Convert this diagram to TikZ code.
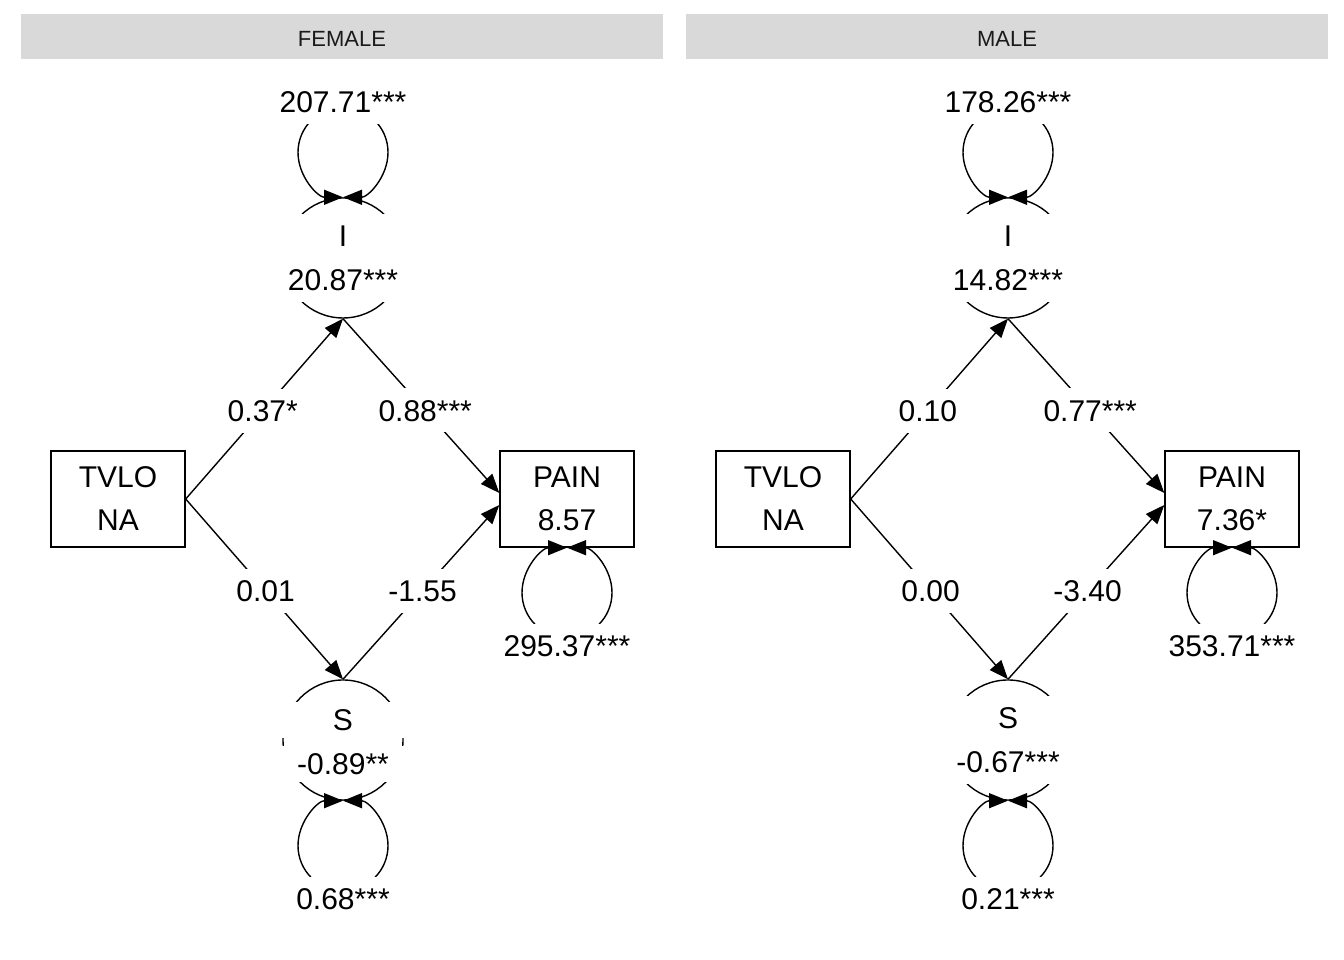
\documentclass[tikz,border=0pt]{standalone}
\usepackage{fontspec}
\setmainfont{Liberation Sans}
\usetikzlibrary{arrows.meta}
\definecolor{stripgrey}{HTML}{D9D9D9}
\definecolor{striptext}{HTML}{1A1A1A}
\tikzset{
  big/.style={font=\fontsize{30}{44}\selectfont},
  strip/.style={fill=stripgrey, text=striptext, minimum width=642pt, minimum height=45pt, inner sep=0pt, text height=20pt, text depth=0pt, font=\fontsize{22}{26}\selectfont},
  obsbox/.style={draw, line width=1.4pt, minimum width=134pt, minimum height=96pt, align=center, inner sep=0pt, font=\fontsize{30}{43}\selectfont},
  latent/.style={draw, circle, line width=1.4pt, minimum size=120pt, inner sep=0pt},
  latlabel/.style={fill=white, minimum width=130pt, minimum height=88pt, align=center, inner sep=0pt, big},
  elabel/.style={fill=white, inner xsep=3pt, inner ysep=11pt, text height=22pt, text depth=0pt, big},
  regarrow/.style={line width=1.4pt, -{Triangle[length=19pt,width=15pt]}}
}
\begin{document}
\begin{tikzpicture}[x=1pt, y=1pt]
        \useasboundingbox (0,0) rectangle (1344,960);
        % naglowki paneli
        \node[strip] (fHead) at (342,923.5) {FEMALE};
        \node[strip] (mHead) at (1007,923.5) {MALE};
        % ---- FEMALE ----
        \node[obsbox] (fTV) at (118,461) {TVLO\\NA};
        \node[obsbox] (fPain) at (567,461) {PAIN\\8.57};
        \node[latent] (fI) at (343,702) {};
        \node[latent] (fS) at (343,220) {};
        % sciezki
        \draw[regarrow] (fTV.east) -- node[elabel, pos=0.49] {0.37*} (fI.south);
        \draw[regarrow] (fI.south) -- node[elabel, pos=0.526] {0.88***} ([yshift=6pt]fPain.west);
        \draw[regarrow] (fTV.east) -- node[elabel, pos=0.508] {0.01} (fS.north);
        \draw[regarrow] (fS.north) -- node[elabel, pos=0.509] {-1.55} ([yshift=-6pt]fPain.west);
        % wariancje
        \draw[regarrow] ([yshift=90pt]fI.north) arc[start angle=90, end angle=270, radius=45pt];
        \draw[regarrow] ([yshift=90pt]fI.north) arc[start angle=90, end angle=-90, radius=45pt];
        \node[elabel] (fIvar) at (343,858) {207.71***};
        \draw[regarrow] ([yshift=-90pt]fS.south) arc[start angle=270, end angle=90, radius=45pt];
        \draw[regarrow] ([yshift=-90pt]fS.south) arc[start angle=-90, end angle=90, radius=45pt];
        \node[elabel] (fSvar) at (343,61) {0.68***};
        \draw[regarrow] ([yshift=-90pt]fPain.south) arc[start angle=270, end angle=90, radius=45pt];
        \draw[regarrow] ([yshift=-90pt]fPain.south) arc[start angle=-90, end angle=90, radius=45pt];
        \node[elabel] (fPainvar) at (567,314) {295.37***};
        % etykiety zmiennych latentnych
        \node[latlabel] (fIlab) at (fI) {I\\20.87***};
        \node[latlabel, minimum height=36pt] (fSname) at (343,240) {S};
        \node[latlabel, minimum height=36pt] (fSval) at (343,196) {-0.89**};
        % ---- MALE ----
        \node[obsbox] (mTV) at (783,461) {TVLO\\NA};
        \node[obsbox] (mPain) at (1232,461) {PAIN\\7.36*};
        \node[latent] (mI) at (1008,702) {};
        \node[latent] (mS) at (1008,220) {};
        % sciezki
        \draw[regarrow] (mTV.east) -- node[elabel, pos=0.49] {0.10} (mI.south);
        \draw[regarrow] (mI.south) -- node[elabel, pos=0.526] {0.77***} ([yshift=6pt]mPain.west);
        \draw[regarrow] (mTV.east) -- node[elabel, pos=0.508] {0.00} (mS.north);
        \draw[regarrow] (mS.north) -- node[elabel, pos=0.509] {-3.40} ([yshift=-6pt]mPain.west);
        % wariancje
        \draw[regarrow] ([yshift=90pt]mI.north) arc[start angle=90, end angle=270, radius=45pt];
        \draw[regarrow] ([yshift=90pt]mI.north) arc[start angle=90, end angle=-90, radius=45pt];
        \node[elabel] (mIvar) at (1008,858) {178.26***};
        \draw[regarrow] ([yshift=-90pt]mS.south) arc[start angle=270, end angle=90, radius=45pt];
        \draw[regarrow] ([yshift=-90pt]mS.south) arc[start angle=-90, end angle=90, radius=45pt];
        \node[elabel] (mSvar) at (1008,61) {0.21***};
        \draw[regarrow] ([yshift=-90pt]mPain.south) arc[start angle=270, end angle=90, radius=45pt];
        \draw[regarrow] ([yshift=-90pt]mPain.south) arc[start angle=-90, end angle=90, radius=45pt];
        \node[elabel] (mPainvar) at (1232,314) {353.71***};
        % etykiety zmiennych latentnych
        \node[latlabel] (mIlab) at (mI) {I\\14.82***};
        \node[latlabel] (mSlab) at (mS) {S\\-0.67***};
\end{tikzpicture}
\end{document}
